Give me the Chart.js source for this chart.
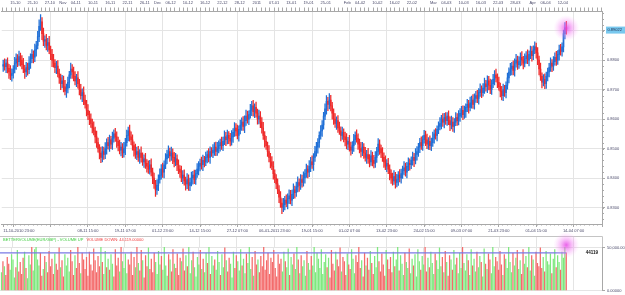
<!DOCTYPE html>
<html>
<head>
<meta charset="utf-8">
<script src="https://cdn.jsdelivr.net/npm/chart.js@4.4.0/dist/chart.umd.min.js"></script>
<style>
  html, body { margin: 0; padding: 0; background: #fff; overflow: hidden; }
  #wrap { position: relative; width: 625px; height: 295px; }
  #main { position: absolute; left: 0; top: 0; }
  #vol { position: absolute; left: 0; top: 226px; }
</style>
</head>
<body>
<div id="wrap">
  <canvas id="main" width="625" height="236"></canvas>
  <canvas id="vol" width="625" height="69"></canvas>
</div>
<script>
// EUR/GBP, 8 hour bars, 11-10-2010 23:00 .. 12-04-2011 15:00
const opens = [
0.8780,0.8785,0.8778,0.8790,0.8772,0.8760,0.8748,0.8755,0.8770,0.8790,
0.8805,0.8795,0.8812,0.8800,0.8785,0.8770,0.8760,0.8775,0.8768,0.8790,
0.8805,0.8820,0.8810,0.8835,0.8850,0.8880,0.8915,0.8930,0.8890,0.8865,
0.8870,0.8850,0.8860,0.8835,0.8820,0.8800,0.8790,0.8775,0.8780,0.8755,
0.8740,0.8720,0.8730,0.8710,0.8695,0.8705,0.8725,0.8750,0.8770,0.8760,
0.8745,0.8730,0.8740,0.8720,0.8700,0.8680,0.8690,0.8665,0.8650,0.8630,
0.8615,0.8600,0.8585,0.8570,0.8560,0.8540,0.8520,0.8500,0.8485,0.8470,
0.8490,0.8480,0.8500,0.8520,0.8510,0.8530,0.8515,0.8535,0.8550,0.8540,
0.8525,0.8510,0.8495,0.8505,0.8485,0.8500,0.8520,0.8545,0.8560,0.8540,
0.8530,0.8510,0.8495,0.8480,0.8490,0.8470,0.8485,0.8470,0.8455,0.8465,
0.8450,0.8440,0.8430,0.8445,0.8420,0.8400,0.8380,0.8360,0.8375,0.8395,
0.8410,0.8430,0.8420,0.8445,0.8465,0.8480,0.8490,0.8475,0.8485,0.8470,
0.8455,0.8465,0.8445,0.8430,0.8420,0.8400,0.8410,0.8390,0.8380,0.8395,
0.8375,0.8385,0.8400,0.8410,0.8395,0.8415,0.8430,0.8440,0.8450,0.8445,
0.8460,0.8455,0.8470,0.8480,0.8470,0.8490,0.8485,0.8495,0.8505,0.8490,
0.8500,0.8510,0.8520,0.8510,0.8525,0.8540,0.8530,0.8545,0.8535,0.8525,
0.8540,0.8555,0.8570,0.8560,0.8545,0.8565,0.8580,0.8590,0.8575,0.8595,
0.8610,0.8600,0.8615,0.8630,0.8645,0.8625,0.8640,0.8620,0.8600,0.8610,
0.8590,0.8570,0.8545,0.8525,0.8510,0.8490,0.8470,0.8455,0.8440,0.8415,
0.8400,0.8380,0.8360,0.8335,0.8315,0.8300,0.8310,0.8325,0.8315,0.8330,
0.8340,0.8325,0.8345,0.8360,0.8350,0.8370,0.8385,0.8375,0.8395,0.8385,
0.8400,0.8415,0.8430,0.8420,0.8440,0.8455,0.8445,0.8470,0.8490,0.8505,
0.8520,0.8545,0.8560,0.8580,0.8610,0.8635,0.8660,0.8650,0.8665,0.8645,
0.8620,0.8600,0.8585,0.8595,0.8570,0.8560,0.8545,0.8555,0.8540,0.8530,
0.8515,0.8525,0.8505,0.8495,0.8510,0.8530,0.8545,0.8535,0.8515,0.8500,
0.8490,0.8505,0.8485,0.8470,0.8480,0.8465,0.8455,0.8475,0.8460,0.8450,
0.8470,0.8490,0.8515,0.8500,0.8485,0.8470,0.8455,0.8440,0.8450,0.8430,
0.8415,0.8400,0.8390,0.8405,0.8385,0.8395,0.8410,0.8400,0.8415,0.8425,
0.8435,0.8420,0.8440,0.8450,0.8445,0.8460,0.8470,0.8460,0.8480,0.8490,
0.8505,0.8520,0.8510,0.8530,0.8545,0.8530,0.8515,0.8525,0.8510,0.8520,
0.8535,0.8550,0.8545,0.8565,0.8575,0.8585,0.8600,0.8590,0.8605,0.8595,
0.8610,0.8595,0.8580,0.8590,0.8575,0.8590,0.8605,0.8595,0.8610,0.8620,
0.8630,0.8615,0.8625,0.8640,0.8650,0.8640,0.8655,0.8665,0.8650,0.8670,
0.8680,0.8670,0.8690,0.8700,0.8690,0.8705,0.8720,0.8710,0.8730,0.8715,
0.8700,0.8720,0.8735,0.8750,0.8740,0.8725,0.8710,0.8695,0.8680,0.8700,
0.8690,0.8715,0.8740,0.8760,0.8770,0.8780,0.8765,0.8790,0.8800,0.8785,
0.8795,0.8810,0.8800,0.8790,0.8805,0.8815,0.8800,0.8820,0.8830,0.8815,
0.8835,0.8845,0.8825,0.8800,0.8770,0.8745,0.8725,0.8735,0.8720,0.8745,
0.8760,0.8775,0.8790,0.8780,0.8795,0.8810,0.8800,0.8820,0.8835,0.8830,
0.8845,0.8890,0.8910
];
const highs = [
0.8800,0.8805,0.8802,0.8808,0.8786,0.8782,0.8771,0.8782,0.8810,0.8822,
0.8819,0.8831,0.8824,0.8816,0.8806,0.8783,0.8793,0.8790,0.8812,0.8822,
0.8836,0.8832,0.8855,0.8864,0.8898,0.8937,0.8955,0.8945,0.8909,0.8883,
0.8888,0.8874,0.8881,0.8848,0.8837,0.8820,0.8802,0.8796,0.8799,0.8770,
0.8753,0.8749,0.8746,0.8732,0.8719,0.8743,0.8762,0.8790,0.8785,0.8777,
0.8761,0.8752,0.8761,0.8735,0.8718,0.8703,0.8710,0.8682,0.8664,0.8649,
0.8627,0.8618,0.8600,0.8591,0.8573,0.8559,0.8536,0.8514,0.8505,0.8507,
0.8505,0.8520,0.8533,0.8538,0.8546,0.8542,0.8556,0.8564,0.8569,0.8557,
0.8539,0.8529,0.8521,0.8517,0.8521,0.8535,0.8563,0.8573,0.8580,0.8557,
0.8547,0.8523,0.8515,0.8505,0.8508,0.8497,0.8506,0.8486,0.8479,0.8484,
0.8463,0.8458,0.8460,0.8465,0.8434,0.8417,0.8392,0.8394,0.8411,0.8431,
0.8446,0.8451,0.8458,0.8483,0.8495,0.8509,0.8502,0.8505,0.8499,0.8487,
0.8484,0.8479,0.8462,0.8442,0.8441,0.8425,0.8428,0.8403,0.8415,0.8411,
0.8400,0.8420,0.8423,0.8427,0.8427,0.8449,0.8456,0.8464,0.8471,0.8478,
0.8474,0.8488,0.8492,0.8500,0.8506,0.8503,0.8514,0.8520,0.8522,0.8521,
0.8526,0.8532,0.8539,0.8539,0.8560,0.8555,0.8563,0.8558,0.8552,0.8561,
0.8568,0.8588,0.8585,0.8580,0.8577,0.8597,0.8604,0.8609,0.8611,0.8631,
0.8627,0.8628,0.8650,0.8660,0.8664,0.8652,0.8658,0.8634,0.8631,0.8626,
0.8605,0.8589,0.8558,0.8542,0.8522,0.8510,0.8484,0.8473,0.8456,0.8428,
0.8412,0.8397,0.8374,0.8354,0.8330,0.8331,0.8338,0.8343,0.8346,0.8360,
0.8358,0.8359,0.8380,0.8373,0.8386,0.8404,0.8397,0.8412,0.8410,0.8421,
0.8429,0.8447,0.8442,0.8459,0.8470,0.8475,0.8483,0.8508,0.8521,0.8534,
0.8557,0.8578,0.8595,0.8623,0.8652,0.8680,0.8674,0.8687,0.8681,0.8657,
0.8635,0.8619,0.8608,0.8612,0.8590,0.8574,0.8573,0.8567,0.8556,0.8551,
0.8538,0.8545,0.8521,0.8524,0.8548,0.8557,0.8564,0.8550,0.8532,0.8521,
0.8521,0.8517,0.8504,0.8494,0.8501,0.8480,0.8493,0.8488,0.8477,0.8490,
0.8504,0.8534,0.8530,0.8512,0.8503,0.8486,0.8475,0.8463,0.8467,0.8445,
0.8428,0.8417,0.8425,0.8419,0.8413,0.8422,0.8429,0.8430,0.8441,0.8456,
0.8451,0.8453,0.8469,0.8465,0.8472,0.8488,0.8484,0.8500,0.8507,0.8518,
0.8535,0.8540,0.8543,0.8562,0.8559,0.8549,0.8537,0.8543,0.8536,0.8556,
0.8564,0.8568,0.8577,0.8591,0.8605,0.8613,0.8619,0.8620,0.8622,0.8622,
0.8628,0.8608,0.8610,0.8605,0.8602,0.8622,0.8619,0.8629,0.8636,0.8643,
0.8645,0.8644,0.8652,0.8667,0.8664,0.8675,0.8678,0.8683,0.8686,0.8694,
0.8698,0.8704,0.8720,0.8713,0.8721,0.8739,0.8732,0.8747,0.8745,0.8736,
0.8733,0.8752,0.8765,0.8770,0.8754,0.8743,0.8722,0.8711,0.8719,0.8715,
0.8727,0.8756,0.8774,0.8789,0.8793,0.8798,0.8805,0.8820,0.8814,0.8812,
0.8825,0.8829,0.8813,0.8822,0.8829,0.8835,0.8832,0.8848,0.8846,0.8849,
0.8862,0.8858,0.8843,0.8814,0.8790,0.8757,0.8751,0.8754,0.8760,0.8773,
0.8789,0.8808,0.8802,0.8812,0.8825,0.8830,0.8833,0.8851,0.8854,0.8859,
0.8902,0.8928,0.8932
];
const lows = [
0.8762,0.8766,0.8758,0.8757,0.8738,0.8734,0.8729,0.8739,0.8757,0.8769,
0.8778,0.8782,0.8780,0.8770,0.8758,0.8738,0.8744,0.8749,0.8754,0.8772,
0.8792,0.8791,0.8795,0.8814,0.8838,0.8863,0.8901,0.8870,0.8849,0.8843,
0.8835,0.8830,0.8822,0.8802,0.8778,0.8776,0.8758,0.8754,0.8743,0.8721,
0.8700,0.8706,0.8692,0.8682,0.8674,0.8689,0.8706,0.8738,0.8738,0.8730,
0.8716,0.8710,0.8705,0.8682,0.8668,0.8659,0.8649,0.8637,0.8611,0.8598,
0.8581,0.8572,0.8553,0.8546,0.8519,0.8504,0.8488,0.8465,0.8452,0.8455,
0.8463,0.8466,0.8481,0.8498,0.8490,0.8500,0.8497,0.8522,0.8524,0.8504,
0.8492,0.8482,0.8475,0.8469,0.8471,0.8479,0.8508,0.8526,0.8525,0.8513,
0.8495,0.8474,0.8467,0.8462,0.8456,0.8450,0.8454,0.8443,0.8436,0.8433,
0.8420,0.8416,0.8413,0.8407,0.8381,0.8365,0.8338,0.8344,0.8357,0.8383,
0.8396,0.8402,0.8400,0.8432,0.8449,0.8468,0.8456,0.8460,0.8449,0.8438,
0.8442,0.8425,0.8415,0.8402,0.8388,0.8381,0.8376,0.8359,0.8364,0.8358,
0.8357,0.8373,0.8379,0.8381,0.8378,0.8402,0.8411,0.8424,0.8430,0.8425,
0.8438,0.8442,0.8451,0.8455,0.8450,0.8473,0.8469,0.8477,0.8476,0.8477,
0.8485,0.8491,0.8497,0.8493,0.8513,0.8510,0.8516,0.8517,0.8509,0.8512,
0.8521,0.8541,0.8543,0.8533,0.8525,0.8550,0.8562,0.8562,0.8554,0.8579,
0.8586,0.8581,0.8603,0.8612,0.8610,0.8605,0.8607,0.8583,0.8584,0.8571,
0.8552,0.8531,0.8505,0.8497,0.8473,0.8455,0.8434,0.8428,0.8396,0.8384,
0.8364,0.8347,0.8316,0.8300,0.8279,0.8286,0.8292,0.8303,0.8295,0.8313,
0.8312,0.8306,0.8330,0.8332,0.8338,0.8353,0.8355,0.8361,0.8369,0.8372,
0.8383,0.8402,0.8400,0.8405,0.8422,0.8433,0.8426,0.8456,0.8474,0.8484,
0.8504,0.8532,0.8541,0.8566,0.8598,0.8617,0.8629,0.8635,0.8628,0.8600,
0.8582,0.8572,0.8565,0.8555,0.8548,0.8526,0.8531,0.8523,0.8509,0.8499,
0.8496,0.8491,0.8478,0.8483,0.8490,0.8514,0.8522,0.8497,0.8485,0.8471,
0.8476,0.8467,0.8457,0.8450,0.8450,0.8438,0.8443,0.8441,0.8434,0.8436,
0.8453,0.8477,0.8480,0.8469,0.8456,0.8436,0.8428,0.8422,0.8415,0.8394,
0.8382,0.8376,0.8378,0.8366,0.8370,0.8375,0.8387,0.8383,0.8399,0.8411,
0.8406,0.8400,0.8425,0.8427,0.8432,0.8444,0.8439,0.8448,0.8461,0.8473,
0.8486,0.8497,0.8494,0.8518,0.8510,0.8500,0.8497,0.8496,0.8493,0.8507,
0.8518,0.8532,0.8526,0.8551,0.8563,0.8567,0.8575,0.8570,0.8582,0.8579,
0.8581,0.8561,0.8567,0.8558,0.8555,0.8578,0.8579,0.8580,0.8592,0.8606,
0.8598,0.8602,0.8606,0.8625,0.8620,0.8628,0.8637,0.8636,0.8634,0.8657,
0.8656,0.8651,0.8677,0.8673,0.8678,0.8687,0.8695,0.8690,0.8699,0.8686,
0.8684,0.8707,0.8716,0.8726,0.8707,0.8698,0.8675,0.8665,0.8663,0.8677,
0.8672,0.8702,0.8723,0.8748,0.8750,0.8750,0.8746,0.8776,0.8769,0.8772,
0.8781,0.8783,0.8770,0.8777,0.8789,0.8788,0.8781,0.8805,0.8797,0.8802,
0.8822,0.8807,0.8785,0.8750,0.8731,0.8706,0.8713,0.8703,0.8704,0.8730,
0.8743,0.8762,0.8761,0.8765,0.8783,0.8782,0.8786,0.8800,0.8817,0.8814,
0.8828,0.8872,0.8888
];
const closes = [
0.8785,0.8778,0.8790,0.8772,0.8760,0.8748,0.8755,0.8770,0.8790,0.8805,
0.8795,0.8812,0.8800,0.8785,0.8770,0.8760,0.8775,0.8768,0.8790,0.8805,
0.8820,0.8810,0.8835,0.8850,0.8880,0.8915,0.8930,0.8890,0.8865,0.8870,
0.8850,0.8860,0.8835,0.8820,0.8800,0.8790,0.8775,0.8780,0.8755,0.8740,
0.8720,0.8730,0.8710,0.8695,0.8705,0.8725,0.8750,0.8770,0.8760,0.8745,
0.8730,0.8740,0.8720,0.8700,0.8680,0.8690,0.8665,0.8650,0.8630,0.8615,
0.8600,0.8585,0.8570,0.8560,0.8540,0.8520,0.8500,0.8485,0.8470,0.8490,
0.8480,0.8500,0.8520,0.8510,0.8530,0.8515,0.8535,0.8550,0.8540,0.8525,
0.8510,0.8495,0.8505,0.8485,0.8500,0.8520,0.8545,0.8560,0.8540,0.8530,
0.8510,0.8495,0.8480,0.8490,0.8470,0.8485,0.8470,0.8455,0.8465,0.8450,
0.8440,0.8430,0.8445,0.8420,0.8400,0.8380,0.8360,0.8375,0.8395,0.8410,
0.8430,0.8420,0.8445,0.8465,0.8480,0.8490,0.8475,0.8485,0.8470,0.8455,
0.8465,0.8445,0.8430,0.8420,0.8400,0.8410,0.8390,0.8380,0.8395,0.8375,
0.8385,0.8400,0.8410,0.8395,0.8415,0.8430,0.8440,0.8450,0.8445,0.8460,
0.8455,0.8470,0.8480,0.8470,0.8490,0.8485,0.8495,0.8505,0.8490,0.8500,
0.8510,0.8520,0.8510,0.8525,0.8540,0.8530,0.8545,0.8535,0.8525,0.8540,
0.8555,0.8570,0.8560,0.8545,0.8565,0.8580,0.8590,0.8575,0.8595,0.8610,
0.8600,0.8615,0.8630,0.8645,0.8625,0.8640,0.8620,0.8600,0.8610,0.8590,
0.8570,0.8545,0.8525,0.8510,0.8490,0.8470,0.8455,0.8440,0.8415,0.8400,
0.8380,0.8360,0.8335,0.8315,0.8300,0.8310,0.8325,0.8315,0.8330,0.8340,
0.8325,0.8345,0.8360,0.8350,0.8370,0.8385,0.8375,0.8395,0.8385,0.8400,
0.8415,0.8430,0.8420,0.8440,0.8455,0.8445,0.8470,0.8490,0.8505,0.8520,
0.8545,0.8560,0.8580,0.8610,0.8635,0.8660,0.8650,0.8665,0.8645,0.8620,
0.8600,0.8585,0.8595,0.8570,0.8560,0.8545,0.8555,0.8540,0.8530,0.8515,
0.8525,0.8505,0.8495,0.8510,0.8530,0.8545,0.8535,0.8515,0.8500,0.8490,
0.8505,0.8485,0.8470,0.8480,0.8465,0.8455,0.8475,0.8460,0.8450,0.8470,
0.8490,0.8515,0.8500,0.8485,0.8470,0.8455,0.8440,0.8450,0.8430,0.8415,
0.8400,0.8390,0.8405,0.8385,0.8395,0.8410,0.8400,0.8415,0.8425,0.8435,
0.8420,0.8440,0.8450,0.8445,0.8460,0.8470,0.8460,0.8480,0.8490,0.8505,
0.8520,0.8510,0.8530,0.8545,0.8530,0.8515,0.8525,0.8510,0.8520,0.8535,
0.8550,0.8545,0.8565,0.8575,0.8585,0.8600,0.8590,0.8605,0.8595,0.8610,
0.8595,0.8580,0.8590,0.8575,0.8590,0.8605,0.8595,0.8610,0.8620,0.8630,
0.8615,0.8625,0.8640,0.8650,0.8640,0.8655,0.8665,0.8650,0.8670,0.8680,
0.8670,0.8690,0.8700,0.8690,0.8705,0.8720,0.8710,0.8730,0.8715,0.8700,
0.8720,0.8735,0.8750,0.8740,0.8725,0.8710,0.8695,0.8680,0.8700,0.8690,
0.8715,0.8740,0.8760,0.8770,0.8780,0.8765,0.8790,0.8800,0.8785,0.8795,
0.8810,0.8800,0.8790,0.8805,0.8815,0.8800,0.8820,0.8830,0.8815,0.8835,
0.8845,0.8825,0.8800,0.8770,0.8745,0.8725,0.8735,0.8720,0.8745,0.8760,
0.8775,0.8790,0.8780,0.8795,0.8810,0.8800,0.8820,0.8835,0.8830,0.8845,
0.8890,0.8910,0.89022
];
const volumes = [
21000,34000,28000,18000,39000,31000,24000,42000,36000,15000,27000,47000,22000,33000,19000,
38000,45000,26000,14000,41000,30000,52000,23000,48000,55000,36000,29000,44000,17000,25000,
40000,33000,21000,46000,28000,37000,19000,43000,31000,24000,50000,27000,35000,16000,42000,
29000,38000,22000,47000,34000,18000,41000,26000,53000,32000,20000,44000,36000,25000,39000,
17000,45000,30000,23000,49000,35000,21000,40000,28000,54000,33000,19000,46000,27000,37000,
24000,42000,31000,16000,48000,29000,38000,22000,51000,34000,26000,43000,20000,36000,30000,
45000,18000,39000,27000,52000,32000,23000,47000,35000,15000,41000,28000,50000,25000,37000,
21000,44000,33000,19000,46000,30000,40000,24000,53000,29000,17000,42000,36000,22000,48000,
31000,26000,43000,18000,38000,34000,49000,23000,41000,28000,55000,20000,35000,45000,27000,
16000,39000,30000,47000,25000,37000,21000,44000,32000,52000,19000,40000,29000,36000,24000,
46000,33000,18000,42000,27000,50000,35000,22000,38000,31000,15000,45000,26000,41000,34000,
23000,48000,29000,37000,20000,43000,32000,54000,25000,39000,17000,46000,30000,36000,21000,
40000,28000,51000,24000,35000,44000,19000,38000,33000,47000,26000,16000,42000,31000,37000,
22000,45000,34000,27000,49000,18000,39000,30000,43000,25000,53000,36000,20000,41000,28000,
35000,17000,46000,32000,24000,40000,29000,52000,21000,44000,37000,26000,48000,19000,33000,
42000,27000,38000,15000,47000,31000,23000,45000,36000,28000,50000,22000,39000,34000,18000,
43000,30000,25000,48000,37000,20000,41000,33000,55000,26000,35000,16000,44000,29000,38000,
24000,46000,32000,19000,40000,27000,51000,34000,22000,43000,30000,17000,47000,36000,25000,
39000,21000,45000,28000,36000,52000,23000,41000,31000,18000,44000,33000,26000,49000,20000,
37000,29000,42000,16000,48000,34000,24000,40000,30000,53000,22000,38000,27000,45000,32000,
19000,43000,35000,25000,50000,28000,39000,21000,46000,33000,17000,41000,36000,24000,47000,
30000,38000,20000,44000,26000,54000,32000,23000,42000,35000,18000,48000,29000,37000,22000,
45000,27000,40000,33000,16000,49000,31000,25000,43000,36000,20000,51000,28000,39000,34000,
24000,46000,30000,18000,42000,37000,26000,52000,33000,21000,44000,29000,38000,47000,25000,
35000,19000,48000,31000,40000,27000,55000,23000,41000,36000,17000,45000,32000,28000,50000,
26000,39000,22000,46000,34000,30000,43000,20000,37000,48000,27000,41000,33000,24000,45000,
38000,52000,44119
];

const priceTicks = [0.83, 0.84, 0.85, 0.86, 0.87, 0.88, 0.89];
const volTicks = [0, 50000];

// bottom time axis: one label every 26 bars, starting at bar 7
const firstLabel = '11-10-2010 23:00';
const bottomLabels = ['', '', '08-11 15:00', '19-11 07:00', '01-12 23:00', '14-12 15:00',
  '27-12 07:00', '06-01-2011 23:00', '19-01 15:00', '01-02 07:00', '13-02 23:00',
  '24-02 15:00', '09-03 07:00', '21-03 23:00', '01-04 15:00', '14-04 07:00'];

// top date axis
const topLabels = ['15-10','21-10','27-10','Nov','04-11','10-11','16-11','22-11','26-11','Dec',
  '06-12','10-12','16-12','22-12','28-12','2011','07-01','13-01','19-01','25-01','Feb',
  '04-02','10-02','16-02','22-02','Mar','04-03','10-03','16-03','22-03','28-03','Apr','06-04','12-04'];
const topLabelDates = ['2010-10-15','2010-10-21','2010-10-27','2010-11-01','2010-11-04','2010-11-10',
  '2010-11-16','2010-11-22','2010-11-26','2010-12-01','2010-12-06','2010-12-10','2010-12-16',
  '2010-12-22','2010-12-28','2011-01-03','2011-01-07','2011-01-13','2011-01-19','2011-01-25',
  '2011-02-01','2011-02-04','2011-02-10','2011-02-16','2011-02-22','2011-03-01','2011-03-04',
  '2011-03-10','2011-03-16','2011-03-22','2011-03-28','2011-04-01','2011-04-06','2011-04-12'];

const FONT = { family: "'Liberation Sans', Arial, sans-serif", size: 4 };
const TXT = '#4a4a6a';
const GRID = '#e4e4e4';
const AXIS = '#a8a8a8';
const UP = '#1f6fd6', DOWN = '#ee2a2a';
const VUP = '#7ee87e', VDOWN = '#f46a6a';
const X_MIN = -1.04, X_MAX = 416.8;
const BARS_PER_DAY = 3, BARS_PER_LABEL = 26, FIRST_TICK = 7;

const n = closes.length;
const isUp = i => closes[i] >= opens[i];
const majorTicks = bottomLabels.map((_, k) => FIRST_TICK + k * BARS_PER_LABEL);

// trading days counted from 12-10-2010 (first bar opens that day at 23:00 the evening before)
function dayIndex(iso) {
  const [y, m, d] = iso.split('-').map(Number);
  const end = Date.UTC(y, m - 1, d);
  let k = 0;
  for (let t = Date.UTC(2010, 9, 12); t < end; t += 86400000) {
    const wd = new Date(t).getUTCDay();
    if (wd !== 0 && wd !== 6) k++;
  }
  return k;
}
const topMap = {};
topLabelDates.forEach((d, k) => { topMap[dayIndex(d)] = topLabels[k]; });
const dayTicks = [];
for (let j = 0; BARS_PER_DAY * j - 0.5 <= X_MAX; j++) dayTicks.push(BARS_PER_DAY * j - 0.5);

function glow(ctx, x, y, r) {
  const g = ctx.createRadialGradient(x, y, 0, x, y, r);
  g.addColorStop(0, 'rgba(230,70,230,0.85)');
  g.addColorStop(0.45, 'rgba(240,120,240,0.45)');
  g.addColorStop(1, 'rgba(255,180,255,0)');
  ctx.fillStyle = g;
  ctx.beginPath();
  ctx.arc(x, y, r, 0, Math.PI * 2);
  ctx.fill();
}

const mainDecor = {
  id: 'mainDecor',
  afterDatasetsDraw(chart) {
    const { ctx, scales } = chart;
    ctx.save();
    glow(ctx, scales.x.getPixelForValue(n - 1), scales.y.getPixelForValue(closes[n - 1]) - 2, 13);
    ctx.restore();
  },
  afterDraw(chart) {
    const { ctx, chartArea: ca, scales } = chart;
    ctx.save();
    ctx.strokeStyle = AXIS;
    ctx.lineWidth = 1;
    ctx.beginPath();
    dayTicks.forEach(v => {
      const x = Math.round(scales.x.getPixelForValue(v)) + 0.5;
      ctx.moveTo(x, ca.bottom);
      ctx.lineTo(x, ca.bottom + 1.5);
    });
    for (let k = 413; k <= 448; k++) {
      const y = Math.round(scales.y.getPixelForValue(k / 500)) + 0.5;
      if (y < ca.top || y > ca.bottom) continue;
      ctx.moveTo(ca.right, y);
      ctx.lineTo(ca.right + 2, y);
    }
    ctx.stroke();

    const last = closes[n - 1];
    const yy = scales.y.getPixelForValue(last);
    ctx.fillStyle = '#78c8ee';
    ctx.fillRect(ca.right + 4, yy - 3.5, 22, 7);
    ctx.fillStyle = '#1c2c50';
    ctx.font = "4px 'Liberation Sans', Arial, sans-serif";
    ctx.textBaseline = 'middle';
    ctx.fillText(last.toFixed(5), ca.right + 5.5, yy + 0.3);
    ctx.restore();
  }
};

new Chart(document.getElementById('main'), {
  type: 'bar',
  data: {
    datasets: [
      {
        data: closes.map((c, i) => ({ x: i, y: [lows[i], highs[i]] })),
        backgroundColor: closes.map((c, i) => isUp(i) ? UP : DOWN),
        barThickness: 0.6,
        grouped: false,
        order: 2
      },
      {
        data: closes.map((c, i) => ({ x: i, y: [opens[i], c] })),
        backgroundColor: closes.map((c, i) => isUp(i) ? UP : DOWN),
        barThickness: 0.9,
        minBarLength: 1,
        grouped: false,
        order: 1
      }
    ]
  },
  options: {
    responsive: false,
    animation: false,
    events: [],
    layout: { padding: 0 },
    plugins: { legend: { display: false }, tooltip: { enabled: false } },
    scales: {
      x: {
        type: 'linear', position: 'bottom', min: X_MIN, max: X_MAX, offset: false,
        afterBuildTicks: s => { s.ticks = [0, ...majorTicks, X_MAX].map(v => ({ value: v })); },
        afterFit: s => { s.height = 12; },
        ticks: {
          autoSkip: false, maxRotation: 0, minRotation: 0, align: 'inner', padding: 1.5,
          font: FONT, color: TXT,
          callback: v => v === 0 ? firstLabel : (majorTicks.includes(v) ? bottomLabels[majorTicks.indexOf(v)] : '')
        },
        grid: {
          offset: false, tickLength: 3, tickColor: AXIS,
          color: c => (c.tick && (c.tick.value === 0 || c.tick.value === X_MAX)) ? 'rgba(0,0,0,0)' : GRID
        },
        border: { display: true, color: AXIS }
      },
      xTop: {
        type: 'linear', position: 'top', min: X_MIN, max: X_MAX, offset: false,
        afterBuildTicks: s => { s.ticks = dayTicks.map(v => ({ value: v })); },
        afterFit: s => { s.height = 11; },
        ticks: {
          autoSkip: false, maxRotation: 0, minRotation: 0, padding: 2.5,
          font: FONT, color: TXT,
          callback: v => topMap[Math.round((v + 0.5) / BARS_PER_DAY)] || ''
        },
        grid: { offset: false, drawOnChartArea: false, tickLength: 3.5, color: AXIS },
        border: { display: true, color: AXIS }
      },
      y: {
        type: 'linear', position: 'right', min: 0.8244, max: 0.8967, beginAtZero: false,
        afterBuildTicks: s => { s.ticks = priceTicks.map(v => ({ value: v })); },
        afterFit: s => { s.width = 23; },
        ticks: { padding: 2, font: FONT, color: TXT, callback: v => v.toFixed(4) },
        grid: { color: GRID, tickLength: 3, tickColor: AXIS },
        border: { display: true, color: AXIS }
      }
    }
  },
  plugins: [mainDecor]
});

const lastVol = volumes[n - 1];

const volDecor = {
  id: 'volDecor',
  beforeDatasetsDraw(chart) {
    const { ctx, chartArea: ca, scales } = chart;
    const top = ca.top - 10.5;
    ctx.save();
    ctx.strokeStyle = GRID;
    ctx.lineWidth = 1;
    ctx.beginPath();
    majorTicks.forEach(v => {
      const x = Math.round(scales.x.getPixelForValue(v)) + 0.5;
      ctx.moveTo(x, top);
      ctx.lineTo(x, ca.top);
    });
    ctx.stroke();
    ctx.strokeStyle = '#c4c4c4';
    ctx.beginPath();
    ctx.moveTo(0, top);
    ctx.lineTo(ca.right + 0.5, top);
    ctx.lineTo(ca.right + 0.5, ca.top);
    ctx.stroke();
    ctx.restore();
  },
  afterDraw(chart) {
    const { ctx, chartArea: ca, scales } = chart;
    ctx.save();
    glow(ctx, scales.x.getPixelForValue(n - 1), ca.top - 2, 13);
    ctx.font = "4px 'Liberation Sans', Arial, sans-serif";
    ctx.textBaseline = 'middle';
    const ty = ca.top - 7;
    const green = 'BETTERVOLUME(EUR/GBP) - VOLUME UP';
    ctx.fillStyle = '#3ccc3c';
    ctx.fillText(green, 3, ty);
    ctx.fillStyle = '#f03a3a';
    ctx.fillText('VOLUME DOWN: 44,119.00000', 3 + ctx.measureText(green).width + 3, ty);
    ctx.fillStyle = '#111';
    ctx.font = "bold 4.5px 'Liberation Sans', Arial, sans-serif";
    ctx.textAlign = 'right';
    ctx.fillText(String(lastVol), ca.right - 4, scales.y.getPixelForValue(lastVol));
    ctx.restore();
  }
};

new Chart(document.getElementById('vol'), {
  type: 'bar',
  data: {
    datasets: [
      {
        type: 'line',
        data: [{ x: X_MIN, y: lastVol }, { x: n - 1, y: lastVol }],
        borderColor: '#7a7ae4',
        borderWidth: 1.2,
        pointRadius: 0,
        order: 0
      },
      {
        data: volumes.map((v, i) => ({ x: i, y: v })),
        backgroundColor: volumes.map((v, i) => isUp(i) ? VUP : VDOWN),
        barThickness: 0.6,
        grouped: false,
        order: 1
      }
    ]
  },
  options: {
    responsive: false,
    animation: false,
    events: [],
    layout: { padding: { top: 21, bottom: 0, left: 0, right: 0 } },
    plugins: { legend: { display: false }, tooltip: { enabled: false } },
    scales: {
      x: {
        type: 'linear', min: X_MIN, max: X_MAX, offset: false,
        afterBuildTicks: s => { s.ticks = majorTicks.map(v => ({ value: v })); },
        afterFit: s => { s.height = 3; },
        ticks: { display: false },
        grid: { offset: false, color: GRID, drawTicks: false },
        border: { display: false }
      },
      y: {
        type: 'linear', position: 'right', min: 0, max: 51000,
        afterBuildTicks: s => { s.ticks = volTicks.map(v => ({ value: v })); },
        afterFit: s => { s.width = 23; },
        ticks: {
          padding: 2, font: FONT, color: TXT,
          callback: v => v === 0 ? '0.00000' : v.toLocaleString('en-US', { minimumFractionDigits: 2 })
        },
        grid: { color: GRID, tickLength: 3, tickColor: AXIS },
        border: { display: true, color: AXIS }
      }
    }
  },
  plugins: [volDecor]
});
</script>
</body>
</html>
